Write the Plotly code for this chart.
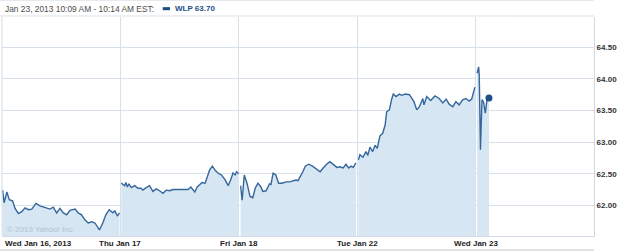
import plotly.graph_objects as go

# ---- data (minutes after 9:30 open, price) ----
day_labels = ["Wed Jan 16, 2013", "Thu Jan 17", "Fri Jan 18", "Tue Jan 22", "Wed Jan 23"]

jan16_min = [2, 7, 16, 24, 35, 43, 54, 65, 76, 87, 98, 112, 125, 142, 158, 169, 180, 191, 202,
             213, 224, 241, 251, 262, 273, 284, 296, 306, 315, 321, 332, 342, 353, 365, 372, 380, 387]
jan16_px = [62.24, 62.04, 62.21, 62.09, 62.07, 61.95, 61.87, 61.90, 61.96, 61.93, 61.94, 62.03, 61.99,
            61.97, 61.94, 61.97, 61.88, 61.95, 61.88, 61.85, 61.92, 61.94, 61.88, 61.85, 61.77, 61.72,
            61.74, 61.72, 61.66, 61.61, 61.72, 61.85, 61.93, 61.88, 61.91, 61.83, 61.88]

jan17_min = [3, 9, 14, 18, 23, 28, 36, 47, 58, 68, 74, 85, 96, 107, 118, 129, 140, 151, 162, 173,
             223, 232, 238, 245, 253, 261, 269, 279, 286, 294, 303, 313, 324, 333, 344, 355, 363,
             371, 378, 383, 389]
jan17_px = [62.35, 62.32, 62.31, 62.36, 62.29, 62.34, 62.28, 62.31, 62.27, 62.27, 62.24, 62.28, 62.31,
            62.22, 62.26, 62.23, 62.19, 62.24, 62.23, 62.25, 62.25, 62.29, 62.26, 62.21, 62.29, 62.32,
            62.36, 62.35, 62.46, 62.56, 62.62, 62.55, 62.50, 62.48, 62.41, 62.31, 62.40, 62.51, 62.48,
            62.53, 62.50]

jan18_min = [6, 11, 18, 27, 37, 46, 54, 63, 73, 79, 90, 101, 106, 113, 122, 131, 142, 156, 167, 177,
             188, 195, 202, 211, 219, 230, 243, 257, 268, 278, 289, 300, 311, 323, 333, 344, 353,
             362, 370, 377, 386]
jan18_px = [62.31, 62.08, 62.48, 62.35, 62.14, 62.12, 62.27, 62.35, 62.29, 62.22, 62.23, 62.34, 62.33,
            62.51, 62.48, 62.35, 62.35, 62.37, 62.37, 62.39, 62.40, 62.39, 62.45, 62.53, 62.62, 62.65,
            62.62, 62.57, 62.53, 62.59, 62.65, 62.69, 62.64, 62.60, 62.61, 62.59, 62.65, 62.59, 62.62,
            62.60, 62.67]

jan22_min = [4, 9, 19, 29, 35, 42, 51, 59, 66, 75, 84, 92, 97, 106, 113, 119, 128, 139, 147, 158,
             172, 179, 187, 196, 205, 216, 220, 229, 242, 256, 270, 282, 293, 303, 315, 325, 336,
             347, 358, 369, 377, 382, 388]
jan22_px = [62.72, 62.80, 62.76, 62.85, 62.79, 62.92, 62.85, 62.95, 62.90, 63.10, 63.14, 63.27, 63.48,
            63.51, 63.67, 63.76, 63.72, 63.76, 63.74, 63.76, 63.75, 63.69, 63.64, 63.51, 63.56, 63.69,
            63.59, 63.72, 63.66, 63.73, 63.69, 63.62, 63.68, 63.60, 63.56, 63.64, 63.59, 63.67, 63.69,
            63.65, 63.68, 63.77, 63.87]

jan23_min = [5, 10, 12, 16, 21, 26, 32, 38, 44]
jan23_px = [64.09, 64.19, 64.06, 62.88, 63.67, 63.64, 63.46, 63.69, 63.70]

y_ticks = [62.0, 62.5, 63.0, 63.5, 64.0, 64.5]
y_ticktext = ["62.00", "62.50", "63.00", "63.50", "64.00", "64.50"]

header_text = "Jan 23, 2013 10:09 AM - 10:14 AM EST:"
symbol_text = "WLP 63.70"
copyright_text = "© 2013 Yahoo! Inc."

SESSION = 390.0
days = [(jan16_min, jan16_px), (jan17_min, jan17_px), (jan18_min, jan18_px),
        (jan22_min, jan22_px), (jan23_min, jan23_px)]

LINE = "#35679c"
FILL = "#d6e6f2"
GRID = "#d8e1ea"
FONT = "Liberation Sans, Arial, sans-serif"

fig = go.Figure()
for i, (mins, px) in enumerate(days):
    xs = [i + m / SESSION for m in mins]
    fig.add_trace(go.Scatter(x=xs, y=px, mode="lines", fill="tozeroy",
                             fillcolor=FILL, line=dict(color=LINE, width=1.4),
                             hoverinfo="skip", showlegend=False))

last_x = 4 + jan23_min[-1] / SESSION
fig.add_trace(go.Scatter(x=[last_x], y=[jan23_px[-1]], mode="markers",
                         marker=dict(color="#1d4f86", size=7), showlegend=False))

fig.update_layout(
    width=625, height=252,
    margin=dict(l=2, r=31, t=17, b=16),
    paper_bgcolor="white", plot_bgcolor="white",
    font=dict(family=FONT, size=8, color="#333333"),
    xaxis=dict(range=[0, 5], tickvals=[1, 2, 3, 4], showticklabels=False,
               showgrid=True, gridcolor=GRID, gridwidth=1, zeroline=False,
               showline=True, linecolor="#d3dce6", mirror=False, ticks=""),
    yaxis=dict(range=[61.514, 64.98], side="right", tickvals=y_ticks, ticktext=y_ticktext,
               showgrid=True, gridcolor=GRID, gridwidth=1, zeroline=False,
               showline=True, linecolor="#cfd9e3", ticks="",
               tickfont=dict(family=FONT, size=8, color="#333333", weight="bold")),
)

# x labels
for i, lab in enumerate(day_labels):
    fig.add_annotation(x=i, y=0, xref="x", yref="paper", text=lab, showarrow=False,
                       xanchor="left" if i == 0 else "center", yanchor="top",
                       xshift=1 if i == 0 else 0, yshift=-1,
                       font=dict(family=FONT, size=8, color="#222222", weight="bold"))

# copyright
fig.add_annotation(x=0, y=0, xref="paper", yref="paper", text=copyright_text, showarrow=False,
                   xanchor="left", yanchor="bottom", xshift=3, yshift=0,
                   font=dict(family=FONT, size=8, color="#b3c2cf"))

# header
fig.add_annotation(x=0.0017, y=1.038, xref="paper", yref="paper", text=header_text,
                   showarrow=False, xanchor="left", yanchor="middle",
                   font=dict(family=FONT, size=8.4, color="#4d4d4d"))
fig.add_shape(type="rect", xref="paper", yref="paper", x0=0.2715, x1=0.2838, y0=1.031, y1=1.045,
              fillcolor="#1d4f86", line=dict(width=0))
fig.add_annotation(x=0.2889, y=1.038, xref="paper", yref="paper", text=symbol_text,
                   showarrow=False, xanchor="left", yanchor="middle",
                   font=dict(family=FONT, size=8, color="#1d4f86", weight="bold"))

# frame lines
fig.add_shape(type="line", xref="paper", yref="paper", x0=-0.004, x1=1.0, y0=1.0046, y1=1.0046,
              line=dict(color="#dbe2ea", width=1))
fig.add_shape(type="line", xref="paper", yref="paper", x0=-0.004, x1=1.0, y0=1.0753, y1=1.0753,
              line=dict(color="#e6eaee", width=1))
fig.add_shape(type="line", xref="paper", yref="paper", x0=0, x1=0, y0=0, y1=1,
              line=dict(color="#d3dce6", width=1))
fig.add_shape(type="line", xref="paper", yref="paper", x0=-0.004, x1=1.0, y0=-0.064, y1=-0.064,
              line=dict(color="#e2e2e2", width=2))

fig.write_html("out.html")
